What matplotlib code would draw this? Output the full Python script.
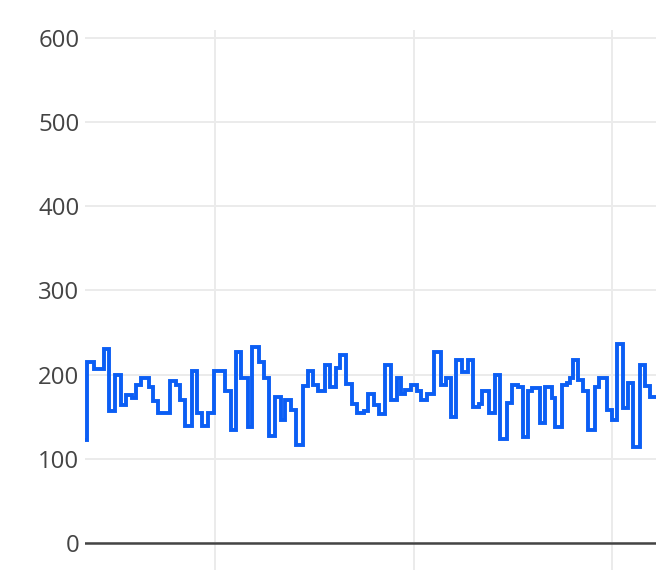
import matplotlib
matplotlib.use("Agg")
import matplotlib.pyplot as plt

# decimal-year positions where each step starts, and the step values
year_pos = [2010.353, 2010.358, 2010.392, 2010.442, 2010.468, 2010.501, 2010.529, 2010.556,
            2010.585, 2010.606, 2010.631, 2010.669, 2010.689, 2010.717, 2010.776, 2010.804,
            2010.826, 2010.851, 2010.885, 2010.910, 2010.935, 2010.968, 2010.998, 2011.052,
            2011.084, 2011.109, 2011.134, 2011.168, 2011.188, 2011.222, 2011.248, 2011.272,
            2011.302, 2011.332, 2011.355, 2011.386, 2011.411, 2011.442, 2011.468, 2011.493,
            2011.518, 2011.555, 2011.582, 2011.610, 2011.632, 2011.661, 2011.689, 2011.716,
            2011.750, 2011.773, 2011.800, 2011.827, 2011.857, 2011.885, 2011.916, 2011.936,
            2011.956, 2011.986, 2012.019, 2012.036, 2012.066, 2012.103, 2012.137, 2012.162,
            2012.189, 2012.215, 2012.244, 2012.273, 2012.299, 2012.328, 2012.344, 2012.378,
            2012.411, 2012.436, 2012.470, 2012.494, 2012.527, 2012.552, 2012.577, 2012.594,
            2012.636, 2012.661, 2012.695, 2012.711, 2012.745, 2012.770, 2012.787, 2012.803,
            2012.829, 2012.854, 2012.879, 2012.913, 2012.934, 2012.971, 2012.997, 2013.022,
            2013.055, 2013.080, 2013.105, 2013.139, 2013.164, 2013.189, 2013.250]
values = [122, 215, 207, 230, 157, 200, 164, 176,
          172, 188, 196, 185, 169, 155, 192, 188,
          170, 139, 204, 154, 139, 155, 204, 181,
          134, 227, 196, 138, 233, 215, 196, 127,
          174, 146, 170, 158, 116, 186, 204, 188,
          181, 211, 185, 208, 223, 189, 165, 154,
          157, 177, 164, 153, 212, 170, 196, 177,
          182, 188, 180, 170, 177, 227, 188, 196,
          150, 217, 203, 217, 162, 165, 181, 154,
          200, 124, 166, 188, 185, 126, 181, 184,
          142, 185, 172, 138, 188, 190, 196, 218,
          194, 181, 134, 185, 196, 158, 146, 237,
          160, 190, 114, 211, 186, 174, 174]

y_ticks = [0, 100, 200, 300, 400, 500, 600]
x_grid = [2011, 2012, 2013]

W, H = 656, 570
fig = plt.figure(figsize=(W / 100, H / 100), dpi=100)
ax = fig.add_axes([85 / W, 0, 1 - 85 / W, (H - 30) / H])

ax.plot(year_pos, values, drawstyle="steps-post", color="#0b5ef4", lw=2.8,
        solid_joinstyle="miter", zorder=3)

ax.set_xlim(2010.348, 2013.219)
ax.set_ylim(-32.1, 609.5)

ax.set_yticks(y_ticks)
ax.set_yticklabels([str(t) for t in y_ticks])
ax.set_xticks(x_grid)
ax.set_xticklabels([])
ax.tick_params(axis="both", length=0)
ax.tick_params(axis="y", pad=4, labelsize=17.3, labelcolor="#444444")
for lab in ax.get_yticklabels():
    lab.set_fontfamily(["Open Sans", "DejaVu Sans"])

ax.grid(True, color="#ebebeb", lw=1.4, zorder=0)
ax.set_axisbelow(True)
ax.axhline(0, color="#444444", lw=1.8, zorder=2)

for s in ax.spines.values():
    s.set_visible(False)

fig.savefig("out.png", dpi=100)
